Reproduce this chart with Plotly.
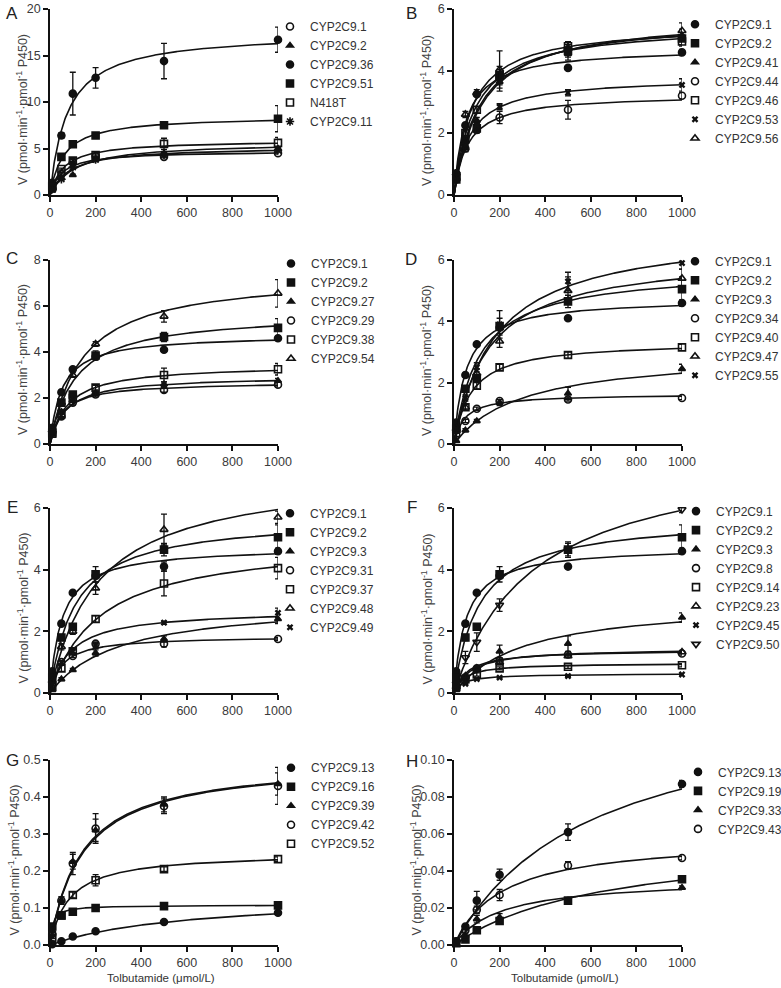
import numpy as np
import plotly.graph_objects as go

conc = [10, 50, 100, 200, 500, 1000]

# ---------------- Panel A ----------------
A_names = ["CYP2C9.1", "CYP2C9.2", "CYP2C9.36", "CYP2C9.51", "N418T", "CYP2C9.11"]
A_symbols = ["circle-open", "triangle-up", "circle", "square", "square-open", "asterisk-open"]
A_v = [[0.7, 2.25, 3.5, 4.2, 4.1, 4.5],
       [0.5, 1.8, 2.15, 3.85, 4.5, 5.0],
       [1.3, 6.4, 10.9, 12.6, 14.4, 16.7],
       [1.0, 4.1, 5.45, 6.4, 7.5, 8.2],
       [0.9, 2.8, 3.7, 4.3, 5.5, 5.6],
       [0.6, 1.7, 3.0, 3.8, 4.3, 4.8]]
A_err = [[0, 0.1, 0.1, 0.1, 0.1, 0.1],
         [0, 0.1, 0.1, 0.2, 0.2, 0.2],
         [0.2, 0.3, 2.3, 1.1, 1.9, 1.35],
         [0.1, 0.2, 0.2, 0.2, 0.2, 1.4],
         [0.1, 0.1, 0.2, 0.2, 0.6, 0.6],
         [0.1, 0.1, 0.1, 0.2, 0.2, 0.2]]
A_vmax = [4.75, 5.7, 17.5, 8.5, 5.9, 5.2]
A_km = [52, 110, 75, 60, 60, 85]

# ---------------- Panel B ----------------
B_names = ["CYP2C9.1", "CYP2C9.2", "CYP2C9.41", "CYP2C9.44", "CYP2C9.46", "CYP2C9.53", "CYP2C9.56"]
B_symbols = ["circle", "square", "triangle-up", "circle-open", "square-open", "x", "triangle-up-open"]
B_v = [[0.7, 2.25, 3.25, 3.8, 4.1, 4.6],
       [0.5, 1.8, 2.15, 3.85, 4.65, 5.05],
       [0.55, 1.5, 2.4, 3.65, 4.55, 5.15],
       [0.5, 1.5, 2.1, 2.5, 2.75, 3.2],
       [0.6, 2.0, 2.75, 3.85, 4.8, 4.95],
       [0.5, 1.6, 2.25, 2.85, 3.3, 3.55],
       [0.7, 2.6, 3.3, 4.05, 4.75, 5.3]]
B_err = [[0.05, 0.05, 0.05, 0.1, 0.05, 0.1],
         [0.05, 0.1, 0.1, 0.3, 0.2, 0.2],
         [0.05, 0.1, 0.1, 0.3, 0.2, 0.2],
         [0.05, 0.1, 0.1, 0.2, 0.3, 0.1],
         [0.05, 0.1, 0.1, 0.2, 0.15, 0.15],
         [0.05, 0.1, 0.1, 0.1, 0.1, 0.2],
         [0.05, 0.1, 0.1, 0.6, 0.2, 0.25]]
B_vmax = [4.75, 5.7, 5.8, 3.25, 5.5, 3.8, 5.5]
B_km = [52, 110, 120, 60, 90, 68, 75]

# ---------------- Panel C ----------------
C_names = ["CYP2C9.1", "CYP2C9.2", "CYP2C9.27", "CYP2C9.29", "CYP2C9.38", "CYP2C9.54"]
C_symbols = ["circle", "square", "triangle-up", "circle-open", "square-open", "triangle-up-open"]
C_v = [[0.7, 2.25, 3.25, 3.8, 4.1, 4.6],
       [0.5, 1.8, 2.15, 3.85, 4.65, 5.05],
       [0.5, 1.4, 1.9, 2.2, 2.6, 2.75],
       [0.5, 1.2, 1.8, 2.15, 2.35, 2.58],
       [0.45, 1.3, 2.0, 2.45, 3.0, 3.25],
       [0.6, 1.8, 3.0, 4.35, 5.55, 6.55]]
C_err = [[0.05, 0.05, 0.05, 0.1, 0.05, 0.1],
         [0.05, 0.1, 0.1, 0.2, 0.2, 0.4],
         [0.05, 0.1, 0.1, 0.1, 0.1, 0.1],
         [0.05, 0.1, 0.1, 0.1, 0.1, 0.1],
         [0.05, 0.1, 0.1, 0.1, 0.3, 0.25],
         [0.05, 0.1, 0.1, 0.1, 0.25, 0.6]]
C_vmax = [4.75, 5.7, 2.95, 2.7, 3.45, 7.4]
C_km = [52, 110, 70, 55, 80, 140]

# ---------------- Panel D ----------------
D_names = ["CYP2C9.1", "CYP2C9.2", "CYP2C9.3", "CYP2C9.34", "CYP2C9.40", "CYP2C9.47", "CYP2C9.55"]
D_symbols = ["circle", "square", "triangle-up", "circle-open", "square-open", "triangle-up-open", "x"]
D_v = [[0.7, 2.25, 3.25, 3.8, 4.1, 4.6],
       [0.5, 1.8, 2.15, 3.85, 4.65, 5.05],
       [0.1, 0.45, 0.75, 1.35, 1.65, 2.45],
       [0.3, 0.75, 1.15, 1.4, 1.45, 1.5],
       [0.5, 1.2, 1.9, 2.5, 2.9, 3.15],
       [0.5, 1.2, 2.3, 3.35, 5.0, 5.4],
       [0.5, 1.5, 2.5, 3.9, 5.3, 5.9]]
D_err = [[0.05, 0.05, 0.05, 0.1, 0.05, 0.1],
         [0.05, 0.1, 0.1, 0.25, 0.2, 0.4],
         [0.02, 0.05, 0.05, 0.1, 0.2, 0.15],
         [0.05, 0.05, 0.05, 0.05, 0.05, 0.05],
         [0.05, 0.1, 0.1, 0.1, 0.1, 0.1],
         [0.05, 0.1, 0.15, 0.2, 0.45, 0.3],
         [0.05, 0.1, 0.15, 0.45, 0.3, 0.2]]
D_vmax = [4.75, 5.7, 3.0, 1.63, 3.35, 6.2, 7.0]
D_km = [52, 110, 300, 45, 75, 150, 180]

# ---------------- Panel E ----------------
E_names = ["CYP2C9.1", "CYP2C9.2", "CYP2C9.3", "CYP2C9.31", "CYP2C9.37", "CYP2C9.48", "CYP2C9.49"]
E_symbols = ["circle", "square", "triangle-up", "circle-open", "square-open", "triangle-up-open", "x"]
E_v = [[0.7, 2.25, 3.25, 3.8, 4.1, 4.6],
       [0.5, 1.8, 2.15, 3.85, 4.65, 5.05],
       [0.1, 0.45, 0.75, 1.3, 1.75, 2.4],
       [0.3, 1.0, 1.2, 1.6, 1.6, 1.75],
       [0.2, 0.8, 1.35, 2.4, 3.55, 4.05],
       [0.4, 1.5, 2.0, 3.4, 5.3, 5.7],
       [0.3, 1.0, 1.35, 1.55, 2.28, 2.6]]
E_err = [[0.05, 0.05, 0.05, 0.1, 0.15, 0.1],
         [0.05, 0.1, 0.1, 0.25, 0.2, 0.4],
         [0.02, 0.05, 0.05, 0.1, 0.1, 0.15],
         [0.05, 0.05, 0.05, 0.05, 0.1, 0.05],
         [0.05, 0.1, 0.1, 0.1, 0.4, 0.35],
         [0.05, 0.1, 0.1, 0.2, 0.5, 0.2],
         [0.05, 0.05, 0.05, 0.1, 0.05, 0.15]]
E_vmax = [4.75, 5.7, 3.0, 1.85, 5.0, 7.2, 2.7]
E_km = [52, 110, 300, 55, 220, 210, 90]

# ---------------- Panel F ----------------
F_names = ["CYP2C9.1", "CYP2C9.2", "CYP2C9.3", "CYP2C9.8", "CYP2C9.14", "CYP2C9.23", "CYP2C9.45", "CYP2C9.50"]
F_symbols = ["circle", "square", "triangle-up", "circle-open", "square-open", "triangle-up-open", "x", "triangle-down-open"]
F_v = [[0.7, 2.25, 3.25, 3.8, 4.1, 4.6],
       [0.5, 1.8, 2.15, 3.85, 4.65, 5.05],
       [0.1, 0.5, 0.8, 1.35, 1.6, 2.45],
       [0.2, 0.5, 0.8, 1.05, 1.25, 1.28],
       [0.2, 0.45, 0.6, 0.8, 0.85, 0.9],
       [0.2, 0.55, 0.8, 1.0, 1.2, 1.33],
       [0.15, 0.3, 0.45, 0.5, 0.55, 0.6],
       [0.3, 1.15, 1.65, 2.85, 4.65, 5.95]]
F_err = [[0.05, 0.05, 0.05, 0.1, 0.05, 0.1],
         [0.05, 0.1, 0.1, 0.25, 0.2, 0.4],
         [0.02, 0.05, 0.05, 0.2, 0.25, 0.15],
         [0.02, 0.05, 0.05, 0.05, 0.05, 0.05],
         [0.02, 0.05, 0.05, 0.05, 0.05, 0.05],
         [0.02, 0.05, 0.05, 0.05, 0.05, 0.05],
         [0.02, 0.02, 0.02, 0.02, 0.02, 0.02],
         [0.05, 0.2, 0.3, 0.2, 0.25, 0.1]]
F_vmax = [4.75, 5.7, 3.0, 1.4, 0.97, 1.45, 0.63, 8.0]
F_km = [52, 110, 300, 60, 45, 75, 40, 350]

# ---------------- Panel G ----------------
G_names = ["CYP2C9.13", "CYP2C9.16", "CYP2C9.39", "CYP2C9.42", "CYP2C9.52"]
G_symbols = ["circle", "square", "triangle-up", "circle-open", "square-open"]
G_v = [[0.002, 0.01, 0.023, 0.037, 0.062, 0.087],
       [0.05, 0.08, 0.09, 0.1, 0.105, 0.107],
       [0.04, 0.12, 0.225, 0.31, 0.38, 0.435],
       [0.03, 0.12, 0.22, 0.315, 0.375, 0.43],
       [0.02, 0.08, 0.135, 0.175, 0.205, 0.232]]
G_err = [[0.001, 0.002, 0.003, 0.003, 0.004, 0.004],
         [0.003, 0.004, 0.004, 0.004, 0.004, 0.004],
         [0.005, 0.01, 0.02, 0.03, 0.02, 0.03],
         [0.005, 0.01, 0.03, 0.04, 0.02, 0.05],
         [0.003, 0.005, 0.008, 0.015, 0.006, 0.006]]
G_vmax = [0.135, 0.108, 0.5, 0.5, 0.25]
G_km = [600, 12, 145, 140, 85]

# ---------------- Panel H ----------------
H_names = ["CYP2C9.13", "CYP2C9.19", "CYP2C9.33", "CYP2C9.43"]
H_symbols = ["circle", "square", "triangle-up", "circle-open"]
H_v = [[0.002, 0.01, 0.024, 0.038, 0.061, 0.087],
       [0.001, 0.003, 0.008, 0.013, 0.024, 0.0355],
       [0.002, 0.005, 0.014, 0.015, 0.024, 0.031],
       [0.002, 0.008, 0.019, 0.027, 0.043, 0.047]]
H_err = [[0.0005, 0.001, 0.005, 0.003, 0.0045, 0.002],
         [0.0005, 0.0005, 0.001, 0.001, 0.001, 0.001],
         [0.0005, 0.001, 0.002, 0.002, 0.001, 0.001],
         [0.0005, 0.001, 0.002, 0.003, 0.002, 0.001]]
H_vmax = [0.135, 0.058, 0.036, 0.058]
H_km = [600, 650, 200, 210]

# y-axis ranges / ticks
y_ranges = [[0, 20], [0, 6], [0, 8], [0, 6], [0, 6], [0, 6], [0, 0.5], [0, 0.1]]
y_dticks = [5, 2, 2, 2, 2, 2, 0.1, 0.02]
y_formats = ["", "", "", "", "", "", ".1f", ".2f"]
panel_letters = ["A", "B", "C", "D", "E", "F", "G", "H"]

panels = [
    (A_names, A_symbols, A_v, A_err, A_vmax, A_km),
    (B_names, B_symbols, B_v, B_err, B_vmax, B_km),
    (C_names, C_symbols, C_v, C_err, C_vmax, C_km),
    (D_names, D_symbols, D_v, D_err, D_vmax, D_km),
    (E_names, E_symbols, E_v, E_err, E_vmax, E_km),
    (F_names, F_symbols, F_v, F_err, F_vmax, F_km),
    (G_names, G_symbols, G_v, G_err, G_vmax, G_km),
    (H_names, H_symbols, H_v, H_err, H_vmax, H_km),
]

# ---------------- layout geometry (pixels) ----------------
W, H = 781, 988
col_px = [(50, 278), (454, 682)]
row_px = [(9, 195), (260, 444), (508, 693), (760, 945)]
legend_text_left = [312, 717, 313, 717, 312, 718, 313, 720]
legend_first_y = [33, 33, 270, 270, 522, 522, 772, 774]
letter_pos = [(12, 13), (411, 13), (12, 258), (411, 260), (12, 508), (412, 508), (12, 760), (412, 761)]
ytitle_x = [[22, 426], [22, 426], [22, 426], [13, 415]]

INK = "#111111"
FONT = "Liberation Sans, Arial, sans-serif"

fig = go.Figure()
layout = dict(width=W, height=H,
              margin=dict(l=0, r=0, t=0, b=0, autoexpand=False),
              plot_bgcolor="white", paper_bgcolor="white",
              font=dict(family=FONT, color="#333333", size=12), annotations=[])

xcurve = np.linspace(0, 1000, 401)

for i, (names, syms, vals, errs, vmaxs, kms) in enumerate(panels):
    k = i + 1
    sfx = "" if k == 1 else str(k)
    r, c = divmod(i, 2)
    x0, x1 = col_px[c]
    yt, yb = row_px[r]
    legname = "legend" + sfx
    for n, s, v, e, vm, km in zip(names, syms, vals, errs, vmaxs, kms):
        ycurve = vm * xcurve / (km + xcurve)
        fig.add_trace(go.Scatter(x=xcurve, y=ycurve, mode="lines",
                                 line=dict(color=INK, width=1.6), showlegend=False,
                                 hoverinfo="skip", xaxis="x" + sfx, yaxis="y" + sfx,
                                 cliponaxis=False))
        small = s.startswith("triangle-up") and not s.endswith("open")
        lw = 1.6
        if s == "x":
            size, lw = 6, 0
        elif small:
            size = 6
        else:
            size = 7
        fig.add_trace(go.Scatter(x=conc, y=v, mode="markers", name=n,
                                 marker=dict(symbol=s, size=size, color=INK,
                                             line=dict(color=INK, width=lw)),
                                 error_y=dict(type="data", array=e, visible=True,
                                              color=INK, thickness=1.3, width=3),
                                 xaxis="x" + sfx, yaxis="y" + sfx, legend=legname,
                                 cliponaxis=False))
    axis_common = dict(showgrid=False, zeroline=False, showline=True, linecolor=INK,
                       linewidth=1.7, ticks="outside", ticklen=5, tickwidth=1.6,
                       tickcolor=INK, automargin=False,
                       tickfont=dict(size=12.5, color="#3a3a3a", family=FONT))
    layout["xaxis" + sfx] = dict(domain=[x0 / W, x1 / W], range=[0, 1000],
                                 tick0=0, dtick=200, anchor="y" + sfx, **axis_common)
    layout["yaxis" + sfx] = dict(domain=[1 - yb / H, 1 - yt / H], range=y_ranges[i],
                                 tick0=0, dtick=y_dticks[i], tickformat=y_formats[i],
                                 anchor="x" + sfx, **axis_common)
    n_items = len(names)
    top_px = legend_first_y[i] - 10 - (n_items - 1) * 2.2
    layout[legname] = dict(x=(legend_text_left[i] - 42) / W,
                           y=1 - top_px / H,
                           xanchor="left", yanchor="top", bgcolor="rgba(0,0,0,0)",
                           font=dict(size=12, color="#333333", family=FONT),
                           itemclick=False, itemdoubleclick=False)
    lx, ly = letter_pos[i]
    layout["annotations"].append(dict(text=panel_letters[i], x=lx / W, y=1 - ly / H,
                                      xref="paper", yref="paper", showarrow=False,
                                      xanchor="center", yanchor="middle",
                                      font=dict(size=17, color="#222222", family=FONT)))
    layout["annotations"].append(dict(text="V (pmol·min<sup>-1</sup>·pmol<sup>-1</sup> P450)",
                                      x=ytitle_x[r][c] / W, y=1 - ((yt + yb) / 2 + 8) / H,
                                      xref="paper", yref="paper", showarrow=False,
                                      xanchor="center", yanchor="middle",
                                      textangle=-90,
                                      font=dict(size=12.5, color="#444444", family=FONT)))
    if r == 3:
        layout["annotations"].append(dict(text="Tolbutamide (μmol/L)",
                                          x=((x0 + x1) / 2 - 3) / W, y=1 - 978 / H,
                                          xref="paper", yref="paper", showarrow=False,
                                          xanchor="center", yanchor="middle",
                                          font=dict(size=11.5, color="#333333", family=FONT)))

fig.update_layout(**layout)
fig.write_html("out.html", config={"displayModeBar": False},
               post_script="document.body.style.margin='0px';document.body.style.overflow='hidden';")
